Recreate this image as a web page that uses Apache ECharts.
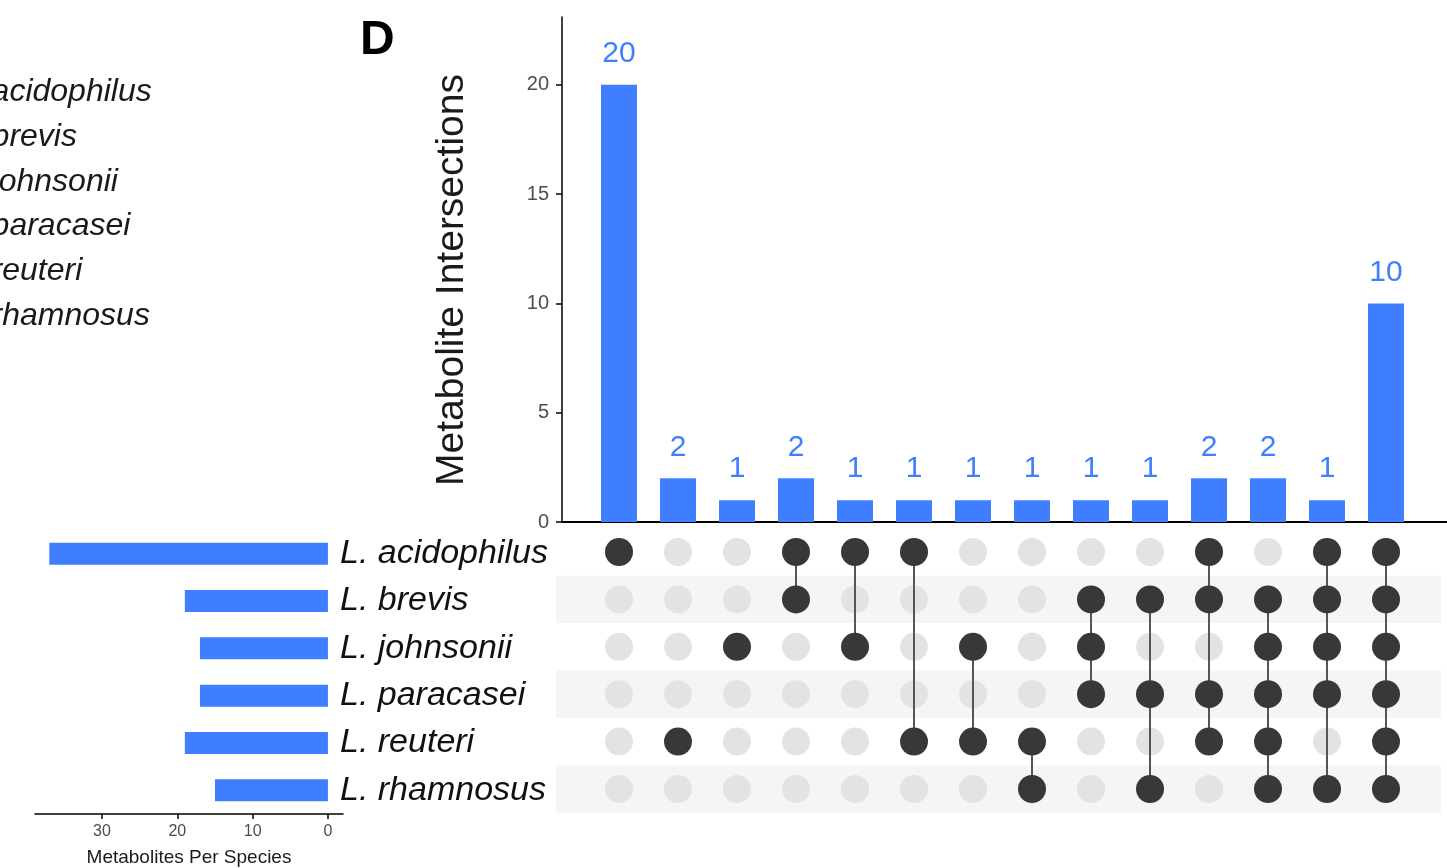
<!DOCTYPE html>
<html>
<head>
<meta charset="utf-8">
<script src="https://cdn.jsdelivr.net/npm/echarts@6/dist/echarts.min.js"></script>
<style>
html,body{margin:0;padding:0;background:#fff;}
#chart{width:1447px;height:868px;}
</style>
</head>
<body>
<div id="chart"></div>
<script>
// ---- data ----
const sets = ['L. acidophilus', 'L. brevis', 'L. johnsonii', 'L. paracasei', 'L. reuteri', 'L. rhamnosus'];
const setSizes = [37, 19, 17, 17, 19, 15];
const intersectionSets = [
  [0], [4], [2], [0, 1], [0, 2], [0, 4], [2, 4], [4, 5],
  [1, 2, 3], [1, 3, 5], [0, 1, 3, 4], [1, 2, 3, 4, 5], [0, 1, 2, 3, 5], [0, 1, 2, 3, 4, 5]
];
const intersectionCounts = [20, 2, 1, 2, 1, 1, 1, 1, 1, 1, 2, 2, 1, 10];
const countTicks = [0, 5, 10, 15, 20];
const sizeTicks = [0, 10, 20, 30];
const panelLabel = 'D';
const yTitle = 'Metabolite Intersections';
const xTitle = 'Metabolites Per Species';

// ---- derived ----
const FONT = 'Liberation Sans, Arial, Helvetica, sans-serif';
const BLUE = '#3f7fff';
const barData = intersectionCounts.map((v, i) => [i + 1, v]);
const lightDots = [], darkDots = [], links = [];
intersectionSets.forEach((mem, i) => {
  for (let r = 0; r < sets.length; r++) {
    if (mem.includes(r)) darkDots.push([i + 1, r]); else lightDots.push([i + 1, r]);
  }
  if (mem.length > 1) {
    links.push({ coords: [[i + 1, Math.min(...mem)], [i + 1, Math.max(...mem)]] });
  }
});
const bands = [];
for (let r = 1; r < sets.length; r += 2) {
  bands.push([{ xAxis: -0.0678, yAxis: r - 0.5 }, { xAxis: 14.932, yAxis: r + 0.5 }]);
}

const chart = echarts.init(document.getElementById('chart'), null, { renderer: 'canvas' });

const legendTexts = sets.map((s, i) => ({
  type: 'text', left: -44, top: 76 + i * 44.8,
  style: { text: s, font: 'italic 32px ' + FONT, fill: '#1a1a1a' }
}));

const option = {
  backgroundColor: '#fff',
  animation: false,
  textStyle: { fontFamily: FONT },
  graphic: [
    { type: 'text', left: 360, top: 17, style: { text: panelLabel, font: 'bold 48px ' + FONT, fill: '#000' } },
    { type: 'text', x: 452, y: 280, rotation: Math.PI / 2,
      style: { text: yTitle, font: '39px ' + FONT, fill: '#1a1a1a', align: 'center', verticalAlign: 'middle' } },
    ...legendTexts
  ],
  grid: [
    { left: 562, top: 17, width: 885, height: 505 },
    { left: 556, top: 528.3, width: 885, height: 284.4 },
    { left: 35, top: 530, width: 308, height: 284.4 }
  ],
  xAxis: [
    { gridIndex: 0, type: 'value', min: 0.034, max: 15.034,
      axisLine: { show: true, lineStyle: { color: '#000', width: 2 } },
      axisTick: { show: false }, axisLabel: { show: false }, splitLine: { show: false } },
    { gridIndex: 1, type: 'value', min: -0.0678, max: 14.932, show: false },
    { gridIndex: 2, type: 'value', min: -2, max: 38.9, inverse: true, position: 'bottom', offset: 0,
      axisLine: { show: true, onZero: false, lineStyle: { color: '#000', width: 1.5 } },
      axisTick: { show: true, length: 5, lineStyle: { color: '#000', width: 1.5 }, customValues: sizeTicks },
      axisLabel: { fontSize: 16, color: '#4d4d4d', margin: 10, customValues: sizeTicks },
      splitLine: { show: false },
      name: xTitle, nameLocation: 'middle', nameGap: 34,
      nameTextStyle: { fontSize: 19, color: '#1a1a1a' } }
  ],
  yAxis: [
    { gridIndex: 0, type: 'value', min: 0, max: 23.1,
      axisLine: { show: true, onZero: false, lineStyle: { color: '#000', width: 1.5 } },
      axisTick: { show: true, length: 6, lineStyle: { color: '#000', width: 1.5 }, customValues: countTicks },
      axisLabel: { fontSize: 20, color: '#4d4d4d', margin: 13, customValues: countTicks },
      splitLine: { show: false } },
    { gridIndex: 1, type: 'value', min: -0.5, max: 5.5, inverse: true, show: false },
    { gridIndex: 2, type: 'category', data: sets, inverse: true, position: 'right',
      axisLine: { show: false }, axisTick: { show: false },
      axisLabel: { fontSize: 34, fontStyle: 'italic', color: '#111', align: 'left', margin: -3 } }
  ],
  series: [
    { type: 'bar', xAxisIndex: 0, yAxisIndex: 0, data: barData, barWidth: 36,
      itemStyle: { color: BLUE },
      label: { show: true, position: 'top', distance: 16, fontSize: 30, color: BLUE } },
    { type: 'scatter', xAxisIndex: 1, yAxisIndex: 1, data: lightDots, symbolSize: 28,
      itemStyle: { color: '#e3e3e3', opacity: 1 }, z: 2,
      markArea: { silent: true, itemStyle: { color: '#f5f5f5' }, data: bands, z: 1 } },
    { type: 'lines', coordinateSystem: 'cartesian2d', xAxisIndex: 1, yAxisIndex: 1, data: links,
      lineStyle: { color: '#555', width: 2, opacity: 1 }, z: 3 },
    { type: 'scatter', xAxisIndex: 1, yAxisIndex: 1, data: darkDots, symbolSize: 28,
      itemStyle: { color: '#383838', opacity: 1 }, z: 4 },
    { type: 'bar', xAxisIndex: 2, yAxisIndex: 2, data: setSizes, barWidth: 22,
      itemStyle: { color: BLUE } }
  ]
};
chart.setOption(option);
</script>
</body>
</html>
